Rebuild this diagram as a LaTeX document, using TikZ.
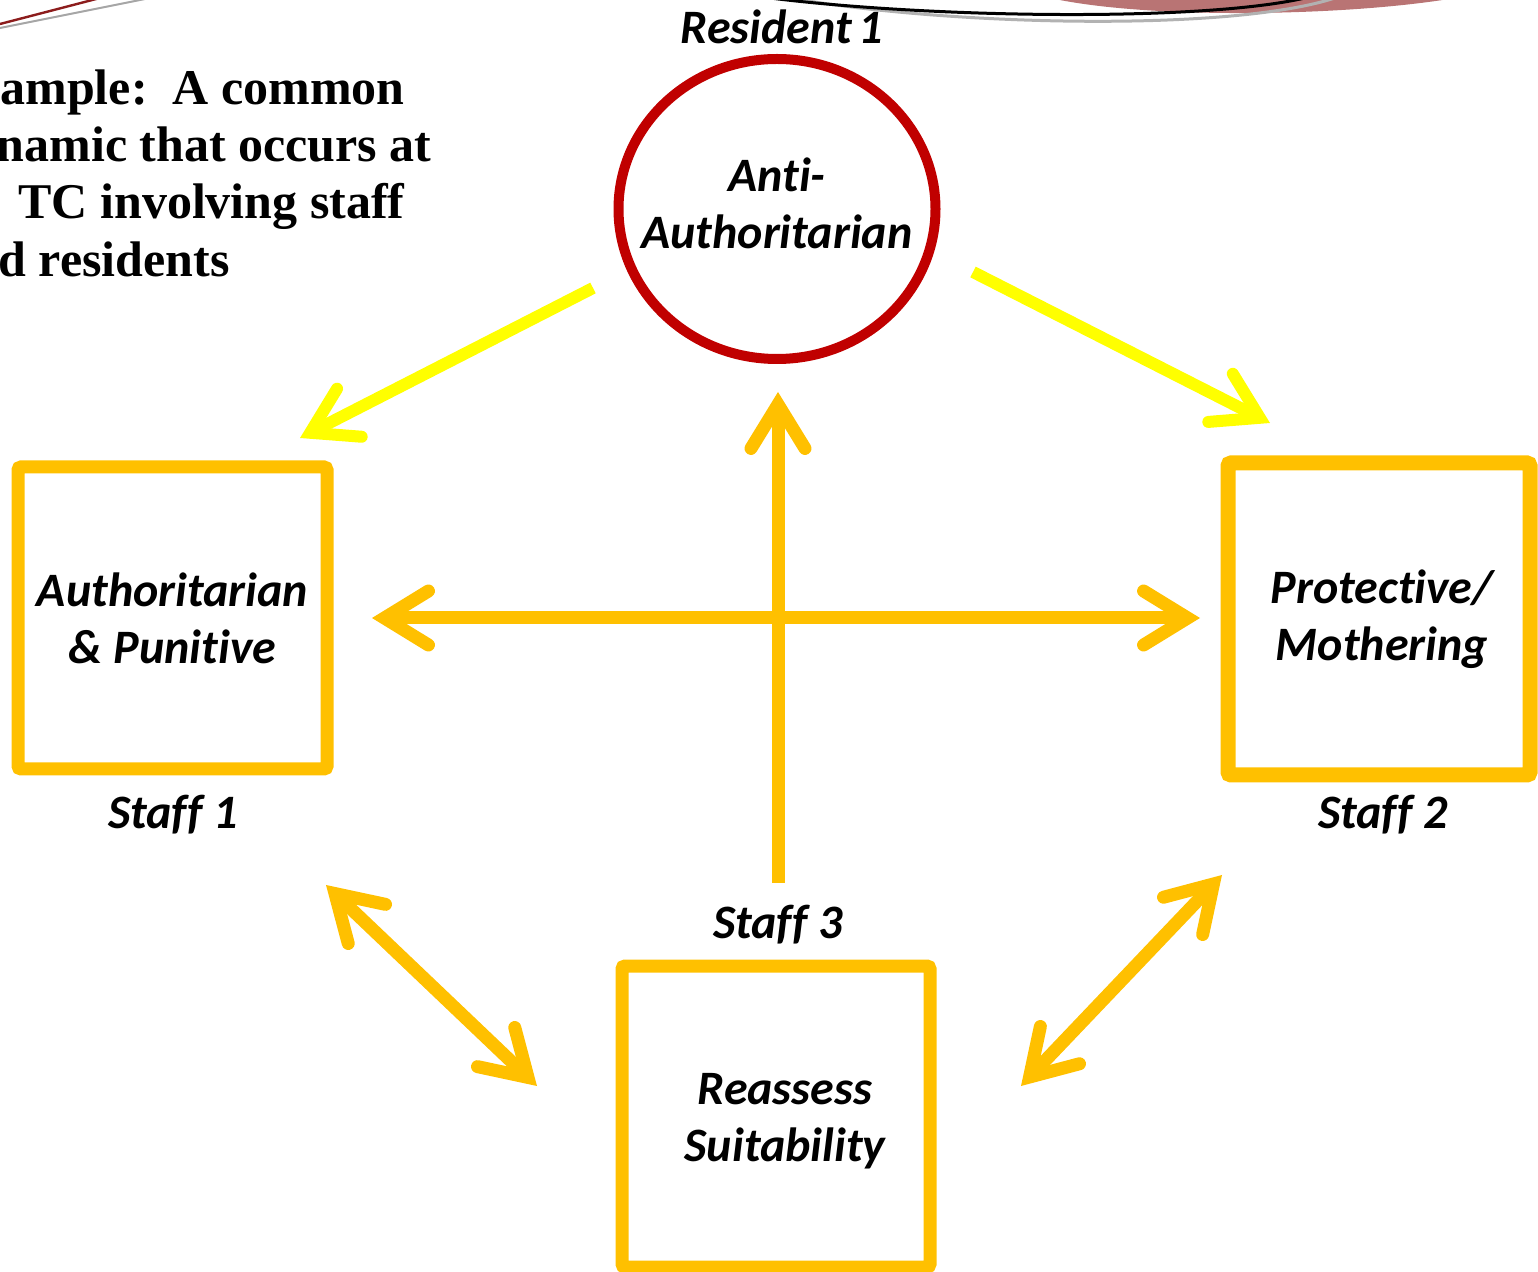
\documentclass[tikz,border=0pt]{standalone}
\usepackage{fontspec}
\newfontfamily\calfont[Ligatures={NoCommon},RawFeature={-liga;-clig;-dlig}]{Carlito}
\newfontfamily\serfont{Liberation Serif}
\usetikzlibrary{arrows.meta,shapes.geometric}
\definecolor{gold}{HTML}{FFC000}
\definecolor{yel}{HTML}{FFFF00}
\definecolor{ringred}{HTML}{C00000}
\definecolor{pinkband}{HTML}{B97474}
\definecolor{darkline}{HTML}{8C1C1C}
\begin{document}
\begin{tikzpicture}[x=0.5pt,y=-0.5pt,
  lbl/.style={font=\calfont\bfseries\itshape\fontsize{24}{28.5}\selectfont, inner sep=0pt, align=center},
  titletxt/.style={font=\serfont\bfseries\fontsize{25}{28.5}\selectfont, inner sep=0pt, anchor=base east},
  rolebox/.style={draw=gold, line width=6.5pt, rounded corners=1.5pt, inner sep=0pt, align=center,
     font=\calfont\bfseries\itshape\fontsize{24}{28.5}\selectfont},
  >={Straight Barb[length=22pt,width=27pt,line join=miter,line cap=round]},
  goldarrow/.style={draw=gold, line width=6.5pt, line cap=butt},
  yelarrow/.style={draw=yel, line width=6pt, line cap=butt}]
\useasboundingbox (0,0) rectangle (1538,1272);
\clip (0,0) rectangle (1538,1272);

% decorative template curves at the top
\fill[pinkband] (1050,-2) .. controls (1150,20) and (1350,16) .. (1455,-2) -- cycle;
\draw[gray!60, line width=1.5pt] (790,-2) .. controls (950,26) and (1230,32) .. (1335,-2);
\draw[black, line width=1.5pt] (770,-2) .. controls (930,18) and (1200,22) .. (1305,-2);
\draw[gray!70, line width=1pt] (0,28) -- (150,-2);
\draw[darkline, line width=1.2pt] (0,24) -- (100,-2);

% title text (cut by the left edge, as in the reference)
\node[titletxt] (t1) at (405,105) {Example:~~A common};
\node[titletxt] (t2) at (432,162) {dynamic that occurs at};
\node[titletxt] (t3) at (405,219) {a\hspace{9pt}TC involving staff};
\node[titletxt] (t4) at (230,277) {and residents};

% resident
\node[draw=ringred, line width=5pt, ellipse, minimum width=158.5pt, minimum height=150pt, inner sep=0pt] (res) at (777,209) {};
\node[lbl] (restxt) at (777,203) {Anti-\\Authoritarian};
\node[lbl] (lres) at (782,27) {Resident\kern-2pt\ 1};

% staff boxes
\node[rolebox, minimum width=154.5pt, minimum height=151pt] (box1) at (172.5,618) {Authoritarian\\\& Punitive};
\node[rolebox, line width=7.5pt, minimum width=151pt, minimum height=156pt] (box2) at (1379,619) {\hspace*{3pt}Protective/\\\hspace*{3pt}Mothering};
\node[rolebox, minimum width=154pt, minimum height=150.5pt] (box3) at (776,1116.5) {};
\node[lbl] (box3txt) at (785,1121) {Reassess\\Suitability};
\node[lbl] (l1) at (173,815) {Staff 1};
\node[lbl] (l2) at (1383,815) {Staff 2};
\node[lbl] (l3) at (778,925) {Staff 3};

% arrow end points
\coordinate (v0) at (778,883);
\coordinate (v1) at (778,392);
\coordinate (h0) at (372,618);
\coordinate (h1) at (1200,618);
\coordinate (dl0) at (326,885);
\coordinate (dl1) at (537,1086);
\coordinate (dr0) at (1222,875);
\coordinate (dr1) at (1021,1086);
\coordinate (yl0) at (593,288);
\coordinate (yl1) at (300,438);
\coordinate (yr0) at (973,272);
\coordinate (yr1) at (1270,423);

% connectors
\draw[goldarrow, ->] (v0) -- (v1);
\draw[goldarrow, <->] (h0) -- (h1);
\draw[goldarrow, <->] (dl0) -- (dl1);
\draw[goldarrow, <->] (dr0) -- (dr1);
\draw[yelarrow, ->] (yl0) -- (yl1);
\draw[yelarrow, ->] (yr0) -- (yr1);
\end{tikzpicture}
\end{document}
